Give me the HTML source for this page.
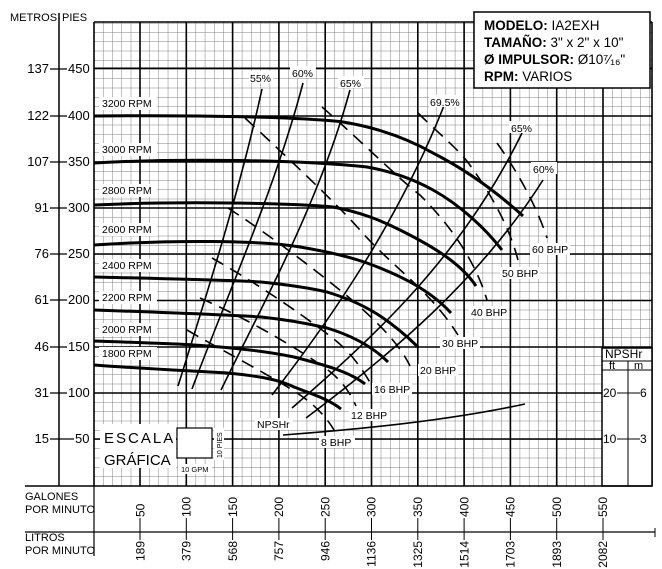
<!DOCTYPE html>
<html><head><meta charset="utf-8"><style>
body{margin:0;background:#fff}
svg{display:block;font-family:"Liberation Sans","DejaVu Sans",sans-serif}
</style></head><body>
<svg width="662" height="569" viewBox="0 0 662 569" xmlns="http://www.w3.org/2000/svg">
<defs>
<pattern id="mg" x="93.7" y="485.5" width="9.26" height="9.25" patternUnits="userSpaceOnUse">
<path d="M0 0V9.25M0 0H9.26" stroke="#808080" stroke-width="1" fill="none"/>
</pattern>
</defs>
<rect x="94" y="22" width="558" height="464" fill="url(#mg)"/>
<g stroke="#000" stroke-width="1.6">
<line x1="94" y1="22" x2="94" y2="486"/><line x1="140" y1="22" x2="140" y2="486"/><line x1="186.3" y1="22" x2="186.3" y2="486"/><line x1="232.6" y1="22" x2="232.6" y2="486"/><line x1="278.9" y1="22" x2="278.9" y2="486"/><line x1="325.2" y1="22" x2="325.2" y2="486"/><line x1="371.5" y1="22" x2="371.5" y2="486"/><line x1="417.8" y1="22" x2="417.8" y2="486"/><line x1="464.1" y1="22" x2="464.1" y2="486"/><line x1="510.4" y1="22" x2="510.4" y2="486"/><line x1="556.7" y1="22" x2="556.7" y2="486"/><line x1="603" y1="22" x2="603" y2="486"/><line x1="652" y1="22" x2="652" y2="486"/>
<line x1="94" y1="22" x2="652" y2="22"/><line x1="94" y1="68.3" x2="652" y2="68.3"/><line x1="94" y1="116" x2="652" y2="116"/><line x1="94" y1="162" x2="652" y2="162"/><line x1="94" y1="208" x2="652" y2="208"/><line x1="94" y1="254" x2="652" y2="254"/><line x1="94" y1="300.5" x2="652" y2="300.5"/><line x1="94" y1="347" x2="652" y2="347"/><line x1="94" y1="393" x2="652" y2="393"/><line x1="94" y1="439" x2="652" y2="439"/>
</g>
<!-- NPSHr box -->
<rect x="602" y="348" width="50" height="138" fill="#fff" stroke="#000" stroke-width="1.5"/>
<line x1="602" y1="361" x2="652" y2="361" stroke="#000"/><line x1="602" y1="370" x2="652" y2="370" stroke="#000"/>
<line x1="628" y1="361" x2="628" y2="486" stroke="#000"/>
<line x1="617" y1="393" x2="640" y2="393" stroke="#000"/><line x1="617" y1="439" x2="640" y2="439" stroke="#000"/>
<g font-size="12"><text x="605" y="358">NPSHr</text><text x="609" y="369" font-size="11">ft</text><text x="634" y="369" font-size="11">m</text>
<text x="603" y="397">20</text><text x="640" y="397">6</text><text x="603" y="443">10</text><text x="640" y="443">3</text></g>
<!-- left axis -->
<line x1="59" y1="13" x2="59" y2="486" stroke="#000" stroke-width="1.5"/>
<text x="10" y="21" font-size="11">METROS</text><text x="62" y="21" font-size="11">PIES</text>
<g font-size="13">
<text x="49" y="73" text-anchor="end">137</text><text x="68" y="73">450</text>
<text x="49" y="120" text-anchor="end">122</text><text x="68" y="120">400</text>
<text x="49" y="166" text-anchor="end">107</text><text x="68" y="166">350</text>
<text x="49" y="212" text-anchor="end">91</text><text x="68" y="212">300</text>
<text x="49" y="258" text-anchor="end">76</text><text x="68" y="258">250</text>
<text x="49" y="304" text-anchor="end">61</text><text x="68" y="304">200</text>
<text x="49" y="351" text-anchor="end">46</text><text x="68" y="351">150</text>
<text x="49" y="397" text-anchor="end">31</text><text x="68" y="397">100</text>
<text x="49" y="443" text-anchor="end">15</text><text x="75" y="443">50</text>
</g>
<g stroke="#000" stroke-width="1.2"><line x1="50" y1="69" x2="67" y2="69"/><line x1="50" y1="116" x2="67" y2="116"/><line x1="50" y1="162" x2="67" y2="162"/><line x1="50" y1="208" x2="67" y2="208"/><line x1="50" y1="254" x2="67" y2="254"/><line x1="50" y1="300" x2="67" y2="300"/><line x1="50" y1="347" x2="67" y2="347"/><line x1="50" y1="393" x2="67" y2="393"/><line x1="50" y1="439" x2="74" y2="439"/></g>
<!-- head curves -->
<g fill="none" stroke="#000" stroke-width="3">
<path d="M94 116 C200 115 300 117 343 122 C380 128 410 140 433 153 C470 172 500 195 523 216"/>
<path d="M94 163 C180 158 300 160 367 167 C395 172 415 180 433 190 C460 205 485 228 502 250"/>
<path d="M94 205 C180 201 290 203 333 207 C360 212 380 220 400 230 C430 245 460 262 476 286"/>
<path d="M94 245 C170 240 260 240 300 247 C330 252 350 257 367 263 C400 275 430 290 451 313"/>
<path d="M94 277 C180 279 230 280 261 282 C290 285 310 288 327 292 C360 302 385 315 418 347"/>
<path d="M94 310 C180 313 230 315 261 317 C290 320 310 324 327 328 C350 335 372 346 388 362"/>
<path d="M94 341 C150 343 180 344 194 345 C240 348 270 352 294 357 C325 365 350 372 365 384"/>
<path d="M94 365 C160 370 200 371 227 373 C260 376 280 380 294 387 C315 395 330 400 341 409"/>
</g>
<!-- efficiency lines -->
<g fill="none" stroke="#000" stroke-width="1.6">
<path d="M178 386 C205 300 240 190 262 89"/>
<path d="M192 389 C225 300 275 190 303 83"/>
<path d="M221 390 C265 300 320 200 350 90"/>
<path d="M272 395 C330 320 400 220 447 98"/>
<path d="M292 408 C370 340 460 260 522 133"/>
<path d="M306 418 C390 355 480 280 543 180"/>
</g>
<!-- BHP dashed -->
<g fill="none" stroke="#000" stroke-width="1.6" stroke-dasharray="13 8">
<path d="M497 143 C520 175 538 210 547 238"/>
<path d="M418 113 C440 135 460 150 472 168 C495 200 510 230 518 260"/>
<path d="M322 107 C360 140 400 180 420 195 C450 225 475 260 487 300"/>
<path d="M245 118 C290 160 333 200 360 230 C390 265 430 290 458 335"/>
<path d="M228 208 C270 235 333 283 360 307 C380 325 400 345 410 366"/>
<path d="M212 258 C260 285 310 320 335 340 C350 352 362 368 372 386"/>
<path d="M200 298 C250 320 300 350 325 368 C340 378 350 392 356 406"/>
<path d="M187 330 C230 355 270 375 300 395 C315 405 327 418 334 430"/>
</g>
<!-- NPSHr curve -->
<path d="M283 435 C380 428 460 418 525 404" fill="none" stroke="#000" stroke-width="1.6"/>
<!-- labels -->
<g font-size="10.5">
<g fill="#fff"><rect x="99" y="97" width="58" height="13"/><rect x="99" y="143" width="58" height="13"/><rect x="99" y="184" width="58" height="13"/><rect x="99" y="223" width="58" height="13"/><rect x="99" y="259" width="58" height="13"/><rect x="99" y="291" width="58" height="13"/><rect x="99" y="323" width="58" height="13"/><rect x="99" y="347" width="58" height="13"/>
<rect x="249" y="71" width="24" height="12"/><rect x="290" y="66" width="26" height="12"/><rect x="338" y="76" width="26" height="12"/><rect x="429" y="95" width="34" height="12"/><rect x="509" y="121" width="26" height="12"/><rect x="531" y="162" width="26" height="12"/>
<rect x="530" y="243" width="40" height="12"/><rect x="500" y="267" width="40" height="12"/><rect x="469" y="306" width="40" height="12"/><rect x="440" y="337" width="40" height="12"/><rect x="418" y="364" width="40" height="12"/><rect x="372" y="383" width="40" height="12"/><rect x="349" y="409" width="40" height="12"/><rect x="319" y="436" width="36" height="12"/><rect x="255" y="418" width="38" height="12"/></g>
<text x="102" y="107">3200 RPM</text><text x="102" y="153">3000 RPM</text><text x="102" y="194">2800 RPM</text><text x="102" y="233">2600 RPM</text><text x="102" y="269">2400 RPM</text><text x="102" y="301">2200 RPM</text><text x="102" y="333">2000 RPM</text><text x="102" y="357">1800 RPM</text>
<text x="250" y="82">55%</text><text x="292" y="77">60%</text><text x="340" y="87">65%</text><text x="430" y="106">69.5%</text><text x="511" y="132">65%</text><text x="533" y="173">60%</text>
<text x="532" y="253">60 BHP</text><text x="502" y="277">50 BHP</text><text x="471" y="316">40 BHP</text><text x="442" y="347">30 BHP</text><text x="420" y="374">20 BHP</text><text x="374" y="393">16 BHP</text><text x="351" y="419">12 BHP</text><text x="321" y="446">8 BHP</text><text x="257" y="428">NPSHr</text>
</g>
<!-- info box -->
<rect x="474" y="12" width="176" height="76" fill="#fff" stroke="#000" stroke-width="1.5"/>
<g font-size="13.5"><text x="484" y="30"><tspan font-weight="bold">MODELO:</tspan> IA2EXH</text><text x="484" y="47"><tspan font-weight="bold">TAMAÑO:</tspan> 3" x 2" x 10"</text><text x="484" y="64"><tspan font-weight="bold">Ø IMPULSOR:</tspan> Ø10⁷⁄₁₆"</text><text x="484" y="81"><tspan font-weight="bold">RPM:</tspan> VARIOS</text></g>
<!-- escala grafica -->
<rect x="100" y="424" width="76" height="44" fill="#fff"/>
<text x="104" y="443" font-size="15" letter-spacing="2">ESCALA</text><text x="104" y="465" font-size="15">GRÁFICA</text>
<rect x="177" y="428" width="35" height="30" fill="#fff" stroke="#000" stroke-width="1.2"/>
<rect x="214" y="428" width="10" height="32" fill="#fff"/>
<text transform="translate(222 458) rotate(-90)" font-size="7">10 PIES</text>
<rect x="178" y="464" width="34" height="10" fill="#fff"/>
<text x="181" y="472" font-size="7.5">10 GPM</text>
<!-- bottom axes -->
<line x1="25" y1="486" x2="652" y2="486" stroke="#000" stroke-width="1.5"/>
<line x1="25" y1="532" x2="655" y2="532" stroke="#000" stroke-width="1.2"/>
<line x1="655" y1="528" x2="655" y2="537" stroke="#000"/>
<line x1="94" y1="486" x2="94" y2="556" stroke="#000" stroke-width="1.2"/>
<g font-size="11"><text x="25" y="500">GALONES</text><text x="25" y="513">POR MINUTO</text><text x="25" y="541">LITROS</text><text x="25" y="554">POR MINUTO</text></g>
<g stroke="#000" stroke-width="1"><line x1="140" y1="518" x2="140" y2="540"/><line x1="186.3" y1="518" x2="186.3" y2="540"/><line x1="232.6" y1="518" x2="232.6" y2="540"/><line x1="278.9" y1="518" x2="278.9" y2="540"/><line x1="325.2" y1="518" x2="325.2" y2="540"/><line x1="371.5" y1="518" x2="371.5" y2="540"/><line x1="417.8" y1="518" x2="417.8" y2="540"/><line x1="464.1" y1="518" x2="464.1" y2="540"/><line x1="510.4" y1="518" x2="510.4" y2="540"/><line x1="556.7" y1="518" x2="556.7" y2="540"/><line x1="603" y1="518" x2="603" y2="540"/></g>
<g font-size="12">
<text transform="translate(144.5 517) rotate(-90)">50</text><text transform="translate(190.5 517) rotate(-90)">100</text><text transform="translate(237 517) rotate(-90)">150</text><text transform="translate(283 517) rotate(-90)">200</text><text transform="translate(329.5 517) rotate(-90)">250</text><text transform="translate(375.5 517) rotate(-90)">300</text><text transform="translate(422 517) rotate(-90)">350</text><text transform="translate(468.5 517) rotate(-90)">400</text><text transform="translate(514.5 517) rotate(-90)">450</text><text transform="translate(561 517) rotate(-90)">500</text><text transform="translate(607 517) rotate(-90)">550</text>
<g text-anchor="end"><text transform="translate(144.5 541) rotate(-90)">189</text><text transform="translate(190.5 541) rotate(-90)">379</text><text transform="translate(237 541) rotate(-90)">568</text><text transform="translate(283 541) rotate(-90)">757</text><text transform="translate(329.5 541) rotate(-90)">946</text><text transform="translate(375.5 541) rotate(-90)">1136</text><text transform="translate(422 541) rotate(-90)">1325</text><text transform="translate(468.5 541) rotate(-90)">1514</text><text transform="translate(514.5 541) rotate(-90)">1703</text><text transform="translate(561 541) rotate(-90)">1893</text><text transform="translate(607 541) rotate(-90)">2082</text></g>
</g>
</svg>
</body></html>
